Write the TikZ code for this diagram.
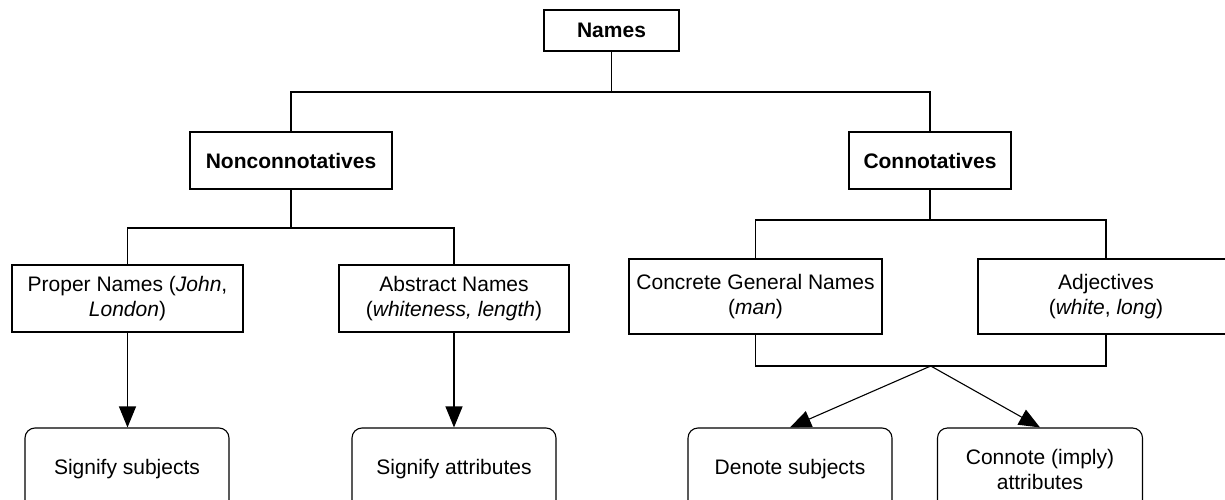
\documentclass[tikz,border=0pt]{standalone}
\usepackage{fontspec}
\setmainfont{Liberation Sans}
\usetikzlibrary{arrows.meta,calc}
\begin{document}
\begin{tikzpicture}[x=1pt,y=-1pt,
  every node/.style={font=\fontsize{21}{25}\selectfont, align=center, inner sep=0pt},
  sqbox/.style={draw, line width=1.1pt, fill=white},
  rbox/.style={draw, line width=1.1pt, rounded corners=10pt, minimum width=204pt, minimum height=82pt},
  conn/.style={line width=1.1pt},
  arr/.style={line width=1.1pt, -{Triangle[length=21pt,width=17pt]}}]
\useasboundingbox (0,0) rectangle (1225,500);
\clip (0,0) rectangle (1225,500);
% level 0
\node[sqbox, minimum width=135pt, minimum height=41pt] (names) at (611.5,30.5) {\textbf{Names}};
% level 1
\node[sqbox, minimum width=202pt, minimum height=57pt] (noncon) at (291,160.5) {\textbf{Nonconnotatives}};
\node[sqbox, minimum width=162pt, minimum height=57pt] (con) at (930,160.5) {\textbf{Connotatives}};
% level 2
\node[sqbox, minimum width=231pt, minimum height=67pt] (proper) at (127.5,298.5) {Proper Names (\textit{John},\\\textit{London})};
\node[sqbox, minimum width=230pt, minimum height=67pt] (abstract) at (454,298.5) {Abstract Names\\(\textit{whiteness, length})};
\node[sqbox, minimum width=253pt, minimum height=75pt] (concrete) at (755.5,296.5) {Concrete General Names\\(\textit{man})};
\node[sqbox, minimum width=256pt, minimum height=75pt] (adj) at (1106,296.5) {Adjectives\\(\textit{white}, \textit{long})};
% level 3
\node[rbox] (sigsub) at (127,469) {Signify subjects};
\node[rbox] (sigattr) at (454,469) {Signify attributes};
\node[rbox] (denote) at (790,469) {Denote subjects};
\node[rbox, minimum width=205pt] (connote) at (1040,469) {Connote (imply)\\attributes};
% helper levels
\coordinate (l1) at (0,92);
\coordinate (l2) at (0,228);
\coordinate (l3) at (0,220);
\coordinate (l4) at (0,366);
% connectors
\draw[conn] (names.south) -- (names.south |- l1);
\draw[conn] (noncon.north) -- (noncon.north |- l1) -- (con.north |- l1) -- (con.north);
\draw[conn] (noncon.south) -- (noncon.south |- l2);
\draw[conn] (proper.north) -- (proper.north |- l2) -- (abstract.north |- l2) -- (abstract.north);
\draw[conn] (con.south) -- (con.south |- l3);
\draw[conn] (concrete.north) -- (concrete.north |- l3) -- (adj.north |- l3) -- (adj.north);
\draw[conn] (concrete.south) -- (concrete.south |- l4) -- (adj.south |- l4) -- (adj.south);
\coordinate (apex) at ($(concrete.south |- l4)!0.5!(adj.south |- l4)$);
\draw[arr] (proper.south) -- (proper.south |- sigsub.north);
\draw[arr] (abstract.south) -- (abstract.south |- sigattr.north);
\draw[arr] (apex) -- (denote.north);
\draw[arr] (apex) -- (connote.north);
\end{tikzpicture}
\end{document}
